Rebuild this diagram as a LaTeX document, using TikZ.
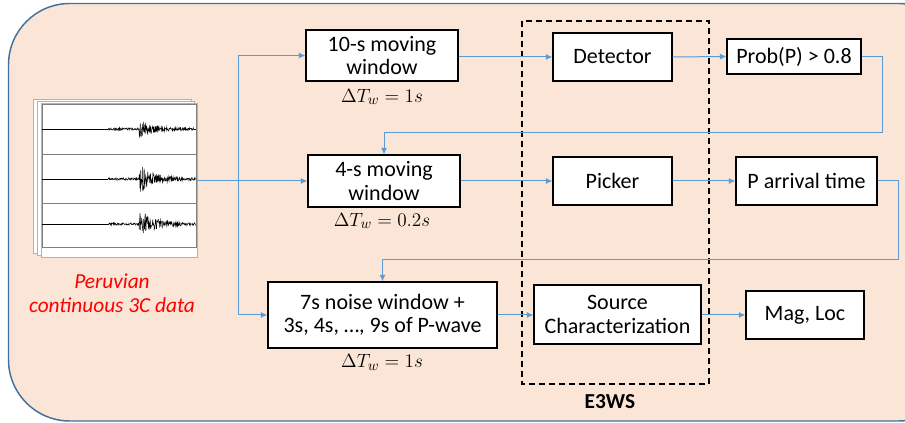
\documentclass[tikz,border=0pt]{standalone}
\usepackage{fontspec}
\setmainfont{Carlito}
\usepackage{amsmath}
\usepackage{tikz}
\usetikzlibrary{arrows.meta,positioning,calc}

\definecolor{bgpeach}{HTML}{FBE5D6}
\definecolor{bgblue}{HTML}{41719C}
\definecolor{flowblue}{HTML}{5B9BD5}

\tikzset{
  stage/.style={draw=black,line width=0.8pt,fill=white,align=center,
    inner sep=0pt,font=\fontsize{16.5}{17.5}\selectfont},
  flow/.style={draw=flowblue,line width=0.75pt,-{Latex[length=5pt,width=4.5pt]}},
  dtw/.style={font=\fontsize{15}{17}\selectfont},
  trace/.style={line width=0.35pt,black},
}

\begin{document}
\begin{tikzpicture}[x=0.75pt,y=-0.75pt]
  \useasboundingbox (0,0) rectangle (905,423);
  \clip (0,0) rectangle (905,423);

  % background panel
  \draw[fill=bgpeach,draw=bgblue,line width=1.1pt,rounded corners=46pt]
    (8.5,3.5) rectangle (960,421);

  % E3WS block
  \draw[black,dashed,line width=1.2pt,dash pattern=on 4.5pt off 3pt]
    (522,21) rectangle (709,384);
  \node[font=\fontsize{16}{18}\selectfont\bfseries] (e3ws) at (610,402) {E3WS};

  % seismogram sheets
  \node[inner sep=0pt,minimum width=164*0.75pt,minimum height=158*0.75pt] (seis) at (115,178) {};
  \draw[gray!60,fill=white,line width=0.4pt] (33,99) rectangle (191,253);
  \draw[gray!60,fill=white,line width=0.4pt] (37,101) rectangle (194,255);
  \draw[gray!60,fill=white,line width=0.4pt] (41,103) rectangle (197,257);
  \draw[gray,line width=0.4pt] (42,104) rectangle (196,247);
  \draw[gray,line width=0.4pt] (42,154) -- (196,154);
  \draw[gray,line width=0.4pt] (42,203) -- (196,203);
  \pgfmathsetseed{7}
  \foreach \y/\a in {129/8,179/14,224/14}{
    \draw[trace] (42,\y) -- (108,\y);
    \draw[trace] plot[domain=108:196,samples=260]
      (\x,{\y+(1.2+\a*(\x>139)*exp(-(\x-139)/14))*rand});
  }
  \node[red,font=\fontsize{16}{18}\selectfont\itshape,align=center] (data)
    at (112,293) {Peruvian\\continuous 3C data};

  % first row
  \node[stage,minimum width=152*0.75pt,minimum height=51*0.75pt] (win10) at (382,55.5)
    {10-s moving\\window};
  \node[dtw] (dt10) at (382,97) {$\Delta T_w = 1s$};
  \node[stage,minimum width=119*0.75pt,minimum height=48*0.75pt] (det) at (612.5,57) {Detector};
  \node[stage,minimum width=134*0.75pt,minimum height=35*0.75pt] (prob) at (794,56.5) {Prob(P) > 0.8};

  % second row
  \node[stage,minimum width=152*0.75pt,minimum height=52*0.75pt] (win4) at (384,181)
    {4-s moving\\window};
  \node[dtw] (dt4) at (382,221) {$\Delta T_w = 0.2s$};
  \node[stage,minimum width=119*0.75pt,minimum height=48*0.75pt] (pick) at (612.5,181) {Picker};
  \node[stage,minimum width=141*0.75pt,minimum height=48*0.75pt] (parr) at (806.5,181) {P arrival time};

  % third row
  \node[stage,minimum width=229*0.75pt,minimum height=66*0.75pt] (win7) at (382.5,315)
    {7s noise window +\\3s, 4s, \dots, 9s of P-wave};
  \node[dtw] (dt7) at (382,362) {$\Delta T_w = 1s$};
  \node[stage,minimum width=167*0.75pt,minimum height=59*0.75pt] (src) at (617.5,314.5)
    {Source\\Characterization};
  \node[stage,minimum width=118*0.75pt,minimum height=48*0.75pt] (mag) at (805,315) {Mag, Loc};

  % connectors
  \coordinate (split) at (238,181);
  \draw[flow] (seis.east |- win4.west) -- (win4.west);
  \draw[flow] (split) |- (win10.west);
  \draw[flow] (split) |- (win7.west);
  \draw[flow] (win10.east |- det.west) -- (det.west);
  \draw[flow] (det.east) -- (prob.west);
  \draw[flow] (win4.east) -- (pick.west);
  \draw[flow] (pick.east) -- (parr.west);
  \draw[flow] (win7.east) -- (src.west |- win7.east);
  \draw[flow] (src.east |- win7.east) -- (mag.west |- win7.east);
  \draw[flow] (prob.east) -- (882,56.5) -- (882,133) -| (win4.north);
  \draw[flow] (parr.east) -- (898,181) -- (898,260) -| (win7.north);
\end{tikzpicture}
\end{document}
